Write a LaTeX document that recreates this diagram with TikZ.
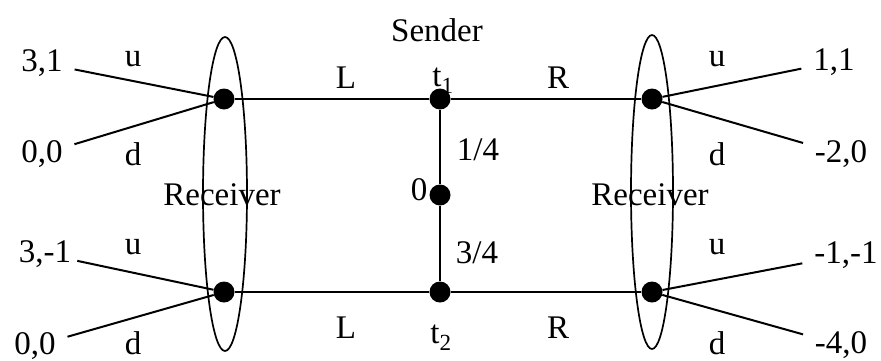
\documentclass[tikz,border=0pt]{standalone}
\usepackage{fontspec}
\setmainfont{Liberation Serif}

\begin{document}
\begin{tikzpicture}[x=1pt, y=-1pt]
		\tikzstyle{every node} = [font = \fontsize{33}{38}\selectfont, inner sep = 3pt]
		\tikzstyle{dot} = [circle, fill, inner sep = 0pt, minimum size = 21pt]
		\tikzstyle{branch} = [line width = 2pt]
		\tikzstyle{leaf} = [line width = 2pt, shorten > = 9pt]
		\tikzstyle{infoset} = [line width = 1.7pt]

		\useasboundingbox (0,0) rectangle (881,360);

		% sender nodes
		\node[dot] (t1) at (440,99) {};
		\node[dot] (n0) at (440,195) {};
		\node[dot] (t2) at (440,292) {};
		% receiver nodes
		\node[dot] (rl1) at (224,99) {};
		\node[dot] (rl2) at (224,292) {};
		\node[dot] (rr1) at (652,99) {};
		\node[dot] (rr2) at (652,292) {};

		% payoffs
		\node (pl1u) at (42,63) {3,1};
		\node (pl1d) at (42,154) {0,0};
		\node (pl2u) at (45,254) {3,-1};
		\node (pl2d) at (35,346) {0,0};
		\node (pr1u) at (834,62) {1,1};
		\node (pr1d) at (841,154) {-2,0};
		\node (pr2u) at (846,255) {-1,-1};
		\node (pr2d) at (841,345) {-4,0};

		\draw [branch] (n0) -- (t1); %nature to t1
		\draw [branch] (n0) -- (t2); %nature to t2
		\draw [branch] (t1) -- (rl1); %L
		\draw [branch] (t1) -- (rr1); %R
		\draw [branch] (t2) -- (rl2); %L
		\draw [branch] (t2) -- (rr2); %R

		\draw [leaf] (rl1) -- (pl1u); %u
		\draw [leaf] (rl1) -- (pl1d); %d
		\draw [leaf, shorten > = 3pt] (rl2) -- (pl2u); %u
		\draw [leaf] (rl2) -- (pl2d); %d
		\draw [leaf] (rr1) -- (pr1u); %u
		\draw [leaf] (rr1) -- (pr1d); %d
		\draw [leaf] (rr2) -- (pr2u); %u
		\draw [leaf] (rr2) -- (pr2d); %d

		% information sets
		\draw [infoset] (225,194) ellipse (22 and 157);
		\draw [infoset] (652,192) ellipse (21 and 157);

		% labels
		\node (sender) at (437,30) {Sender};
		\node (recl) at (222,195) {Receiver};
		\node (recr) at (650,195) {Receiver};
		\node (lt1) at (443,81) {t\textsubscript{1}};
		\node (lt2) at (441,338) {t\textsubscript{2}};
		\node (lp1) at (478,150) {1/4};
		\node (lp2) at (477,253) {3/4};
		\node (lnat) at (419,190) {0};
		\node at (346,78) {L};
		\node at (558,78) {R};
		\node at (346,328) {L};
		\node at (558,328) {R};
		\foreach \x in {133,717}
		{
			\node at (\x,59) {u};
			\node at (\x,154) {d};
			\node at (\x,247) {u};
			\node at (\x,343) {d};
		}
	\end{tikzpicture}
\end{document}
